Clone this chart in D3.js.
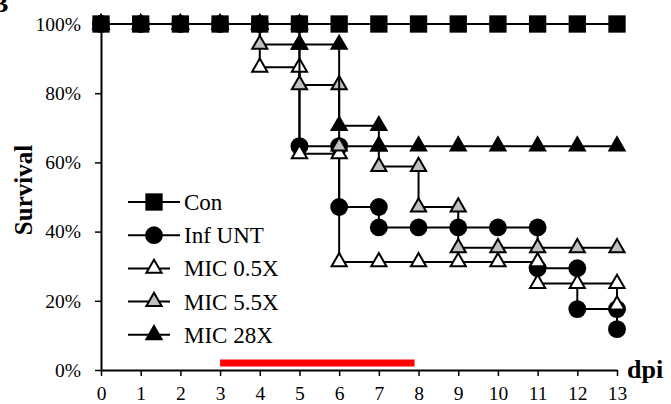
<!DOCTYPE html>
<html>
<head>
<meta charset="utf-8">
<script src="https://cdn.jsdelivr.net/npm/d3@7"></script>
<style>
  body { margin: 0; background: #fff; }
  svg text { font-family: "Liberation Serif", "Times New Roman", serif; fill: #000; }
</style>
</head>
<body>
<div id="chart"></div>
<script>
// days post infection and survival (%) per group; a day appears twice where survival drops
var conX = [0, 1, 2, 3, 4, 5, 6, 7, 8, 9, 10, 11, 12, 13];
var conY = [100, 100, 100, 100, 100, 100, 100, 100, 100, 100, 100, 100, 100, 100];

var infX = [0, 1, 2, 3, 4, 5, 5, 6, 6, 7, 7, 8, 9, 10, 11, 11, 12, 12, 13, 13];
var infY = [100, 100, 100, 100, 100, 100, 64.7, 64.7, 47.1, 47.1, 41.2, 41.2, 41.2, 41.2, 41.2, 29.4, 29.4, 17.6, 17.6, 11.8];

var mic05X = [0, 1, 2, 3, 4, 4, 5, 5, 6, 6, 7, 8, 9, 10, 11, 11, 12, 13, 13];
var mic05Y = [100, 100, 100, 100, 100, 87.5, 87.5, 62.5, 62.5, 31.25, 31.25, 31.25, 31.25, 31.25, 31.25, 25, 25, 25, 18.75];

var mic55X = [0, 1, 2, 3, 4, 4, 5, 5, 6, 6, 7, 7, 8, 8, 9, 9, 10, 11, 12, 13];
var mic55Y = [100, 100, 100, 100, 100, 94.1, 94.1, 82.4, 82.4, 64.7, 64.7, 58.8, 58.8, 47.1, 47.1, 35.3, 35.3, 35.3, 35.3, 35.3];

var mic28X = [0, 1, 2, 3, 4, 5, 5, 6, 6, 7, 7, 8, 9, 10, 11, 12, 13];
var mic28Y = [100, 100, 100, 100, 100, 100, 94.1, 94.1, 70.6, 70.6, 64.7, 64.7, 64.7, 64.7, 64.7, 64.7, 64.7];

var seriesNames = ['Con', 'Inf UNT', 'MIC 0.5X', 'MIC 5.5X', 'MIC 28X'];
var xTicks = [0, 1, 2, 3, 4, 5, 6, 7, 8, 9, 10, 11, 12, 13];
var yTicks = [0, 20, 40, 60, 80, 100];
var treatment = [3, 7.9];   // red bar, dpi range
var treatmentLevel = 2;

var svgWidth = 671, svgHeight = 404;
var margin = {top: 24, right: 54, bottom: 34, left: 101};
var width = svgWidth - margin.left - margin.right;
var height = svgHeight - margin.top - margin.bottom;

var svg = d3.select('#chart').append('svg')
  .attr('width', svgWidth)
  .attr('height', svgHeight);

var chartGroup = svg.append('g')
  .attr('transform', `translate(${margin.left}, ${margin.top})`);

var xScale = d3.scaleLinear().domain([0, 13]).range([0, width]);
var yScale = d3.scaleLinear().domain([0, 100]).range([height, 0]);

// axes
var bottomAxis = d3.axisBottom(xScale).tickValues(xTicks).tickSize(6).tickSizeOuter(0).tickPadding(10);
var leftAxis = d3.axisLeft(yScale).tickValues(yTicks).tickSize(6).tickSizeOuter(0).tickPadding(14)
  .tickFormat(d => d + '%');

var xg = chartGroup.append('g').attr('transform', `translate(0, ${height})`).call(bottomAxis);
var yg = chartGroup.append('g').call(leftAxis);
[xg, yg].forEach(function(g) {
  g.select('.domain').attr('stroke', '#000').attr('stroke-width', 2);
  g.selectAll('.tick line').attr('stroke', '#000').attr('stroke-width', 1.5);
  g.selectAll('.tick text').style('font-family', '"Liberation Serif", serif').style('font-size', '19.5px').attr('fill', '#000');
});

// red treatment bar
chartGroup.append('line')
  .attr('x1', xScale(treatment[0])).attr('x2', xScale(treatment[1]))
  .attr('y1', yScale(treatmentLevel)).attr('y2', yScale(treatmentLevel))
  .attr('stroke', '#ff0000').attr('stroke-width', 7);

var styles = [
  {shape: d3.symbolSquare, size: 300, fill: '#000'},
  {shape: d3.symbolCircle, size: 250, fill: '#000'},
  {shape: d3.symbolTriangle, size: 100, fill: '#fff'},
  {shape: d3.symbolTriangle, size: 100, fill: '#bfbfbf'},
  {shape: d3.symbolTriangle, size: 100, fill: '#000'}
];

var series = [
  {name: seriesNames[0], xs: conX, ys: conY, style: styles[0]},
  {name: seriesNames[1], xs: infX, ys: infY, style: styles[1]},
  {name: seriesNames[2], xs: mic05X, ys: mic05Y, style: styles[2]},
  {name: seriesNames[3], xs: mic55X, ys: mic55Y, style: styles[3]},
  {name: seriesNames[4], xs: mic28X, ys: mic28Y, style: styles[4]}
];

// draw order: control last so its squares sit on top
var drawOrder = [1, 2, 3, 4, 0];

var line = d3.line().x(d => xScale(d[0])).y(d => yScale(d[1]));

drawOrder.forEach(function(i) {
  var s = series[i];
  var pts = s.xs.map((x, k) => [x, s.ys[k]]);
  var g = chartGroup.append('g');
  g.append('path')
    .attr('d', line(pts))
    .attr('fill', 'none')
    .attr('stroke', '#000')
    .attr('stroke-width', 2);
  g.selectAll('path.mark')
    .data(pts)
    .enter()
    .append('path')
    .attr('class', 'mark')
    .attr('d', d3.symbol().type(s.style.shape).size(s.style.size))
    .attr('transform', d => `translate(${xScale(d[0])}, ${yScale(d[1])})`)
    .attr('fill', s.style.fill)
    .attr('stroke', '#000')
    .attr('stroke-width', s.style.shape === d3.symbolTriangle ? 2 : 0);
});

// legend
var legend = svg.append('g').attr('transform', 'translate(128, 202)');
series.forEach(function(s, i) {
  var row = legend.append('g').attr('transform', `translate(0, ${i * 33.2})`);
  var isTri = s.style.shape === d3.symbolTriangle;
  row.append('line')
    .attr('x1', 0).attr('x2', isTri ? 42 : 52)
    .attr('y1', 0).attr('y2', 0)
    .attr('stroke', '#000').attr('stroke-width', 2);
  row.append('path')
    .attr('d', d3.symbol().type(s.style.shape).size(s.style.size))
    .attr('transform', 'translate(26, 0)')
    .attr('fill', s.style.fill)
    .attr('stroke', '#000')
    .attr('stroke-width', isTri ? 2 : 0);
  row.append('text')
    .attr('x', 56)
    .attr('y', 8)
    .style('font-size', '23px')
    .text(s.name);
});

// axis labels
svg.append('text')
  .attr('transform', 'translate(32, 190) rotate(-90)')
  .attr('text-anchor', 'middle')
  .style('font-size', '25px')
  .style('font-weight', 'bold')
  .text('Survival');

svg.append('text')
  .attr('x', 627)
  .attr('y', 378)
  .style('font-size', '26px')
  .style('font-weight', 'bold')
  .text('dpi');

// panel letter, partly outside the frame as in the source figure
svg.append('text')
  .attr('x', -9)
  .attr('y', 12)
  .style('font-size', '26px')
  .style('font-weight', 'bold')
  .text('B');
</script>
</body>
</html>
